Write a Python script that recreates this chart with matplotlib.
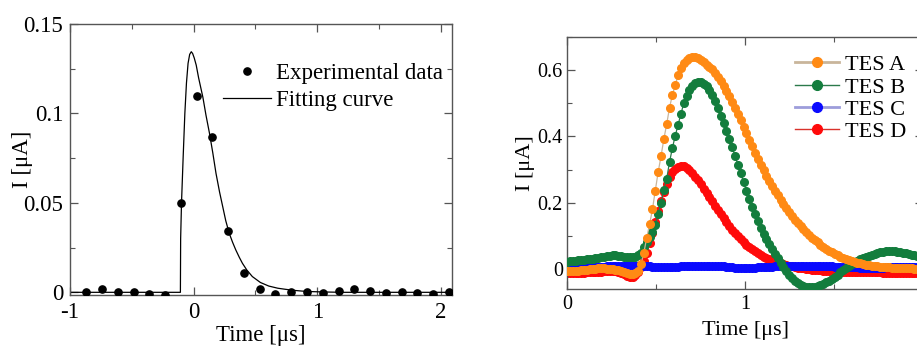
import numpy as np
import matplotlib
matplotlib.use("Agg")
import matplotlib.pyplot as plt
from matplotlib.lines import Line2D
from matplotlib.ticker import MultipleLocator, FixedLocator

plt.rcParams['font.family'] = ['Liberation Serif', 'DejaVu Serif']
plt.rcParams['mathtext.fontset'] = 'stix'

# ---------------- Left panel data ----------------
exp_time = [-0.872, -0.744, -0.613, -0.485, -0.360, -0.232, -0.104, 0.024, 0.149, 0.280,
            0.408, 0.533, 0.661, 0.789, 0.915, 1.043, 1.173, 1.301, 1.427, 1.555,
            1.683, 1.808, 1.936, 2.067]
exp_current = [0.0000, 0.0017, 0.0000, 0.0002, -0.0010, -0.0015, 0.0497, 0.1100, 0.0866, 0.0343,
               0.0110, 0.0017, -0.0010, 0.0004, 0.0000, -0.0006, 0.0007, 0.0017, 0.0010, -0.0004,
               0.0000, -0.0006, -0.0007, 0.0000]

fit_time = [-1.000, -0.107, -0.105, -0.098, -0.085, -0.071, -0.058, -0.045, -0.032, -0.019,
            -0.008, 0.005, 0.021, 0.040, 0.075, 0.100, 0.128, 0.155, 0.181, 0.210,
            0.235, 0.260, 0.288, 0.315, 0.341, 0.370, 0.395, 0.430, 0.475, 0.540,
            0.608, 0.680, 0.741, 0.810, 0.875, 0.950, 1.050, 1.200, 2.090]
fit_current = [0.0, 0.0, 0.030, 0.050, 0.075, 0.100, 0.117, 0.128, 0.133, 0.1345,
               0.1335, 0.131, 0.127, 0.120, 0.109, 0.099, 0.089, 0.078, 0.0665, 0.056,
               0.048, 0.040, 0.033, 0.028, 0.0237, 0.0195, 0.0162, 0.0125, 0.0088, 0.0055,
               0.0035, 0.0023, 0.0017, 0.0011, 0.0007, 0.0004, 0.0002, 0.0, 0.0]

left_xticks = [-1, 0, 1, 2]
left_xticklabels = ['-1', '0', '1', '2']
left_yticks = [0, 0.05, 0.1, 0.15]
left_yticklabels = ['0', '0.05', '0.1', '0.15']

# ---------------- Right panel data ----------------
sample_dt = 0.016
tes_a = [-0.007, -0.007, -0.006, -0.006, -0.005, -0.004, -0.003, -0.002, -0.001, 0.000,
         0.001, 0.002, 0.002, 0.002, 0.001, 0.000, -0.001, -0.002, -0.004, -0.007,
         -0.010, -0.013, -0.015, -0.015, -0.012, -0.005, 0.015, 0.050, 0.095, 0.135,
         0.180, 0.237, 0.292, 0.340, 0.392, 0.437, 0.487, 0.525, 0.555, 0.585,
         0.607, 0.622, 0.632, 0.638, 0.640, 0.639, 0.636, 0.631, 0.625, 0.617,
         0.610, 0.602, 0.592, 0.580, 0.567, 0.553, 0.538, 0.522, 0.505, 0.487,
         0.468, 0.449, 0.429, 0.409, 0.389, 0.370, 0.351, 0.333, 0.315, 0.298,
         0.282, 0.266, 0.251, 0.236, 0.222, 0.209, 0.196, 0.183, 0.171, 0.160,
         0.149, 0.139, 0.129, 0.120, 0.111, 0.103, 0.095, 0.088, 0.081, 0.074,
         0.068, 0.062, 0.056, 0.051, 0.046, 0.042, 0.038, 0.034, 0.030, 0.027,
         0.024, 0.021, 0.019, 0.017, 0.015, 0.013, 0.012, 0.010, 0.009, 0.008,
         0.007, 0.006, 0.006, 0.005, 0.004, 0.004, 0.003, 0.003, 0.003, 0.002,
         0.002, 0.002, 0.001, 0.001, 0.001]
tes_b = [0.022, 0.023, 0.024, 0.025, 0.026, 0.027, 0.028, 0.029, 0.030, 0.031,
         0.032, 0.034, 0.036, 0.038, 0.040, 0.041, 0.042, 0.042, 0.041, 0.040,
         0.038, 0.037, 0.036, 0.036, 0.038, 0.042, 0.050, 0.068, 0.083, 0.096,
         0.111, 0.134, 0.165, 0.200, 0.240, 0.272, 0.323, 0.365, 0.402, 0.435,
         0.468, 0.500, 0.523, 0.540, 0.552, 0.560, 0.564, 0.563, 0.559, 0.551,
         0.540, 0.525, 0.506, 0.485, 0.463, 0.440, 0.416, 0.392, 0.367, 0.341,
         0.315, 0.289, 0.262, 0.237, 0.212, 0.188, 0.165, 0.144, 0.125, 0.107,
         0.091, 0.075, 0.060, 0.046, 0.032, 0.019, 0.006, -0.006, -0.017, -0.027,
         -0.036, -0.043, -0.048, -0.052, -0.054, -0.055, -0.055, -0.054, -0.052, -0.049,
         -0.045, -0.040, -0.035, -0.029, -0.023, -0.017, -0.010, -0.004, 0.002, 0.008,
         0.014, 0.019, 0.024, 0.029, 0.033, 0.037, 0.041, 0.044, 0.047, 0.050,
         0.052, 0.053, 0.054, 0.055, 0.055, 0.054, 0.053, 0.052, 0.050, 0.048,
         0.046, 0.044, 0.042, 0.040, 0.038]
tes_c = [0.008, 0.009, 0.009, 0.010, 0.010, 0.009, 0.009, 0.008, 0.008, 0.008,
         0.008, 0.007, 0.007, 0.007, 0.008, 0.008, 0.009, 0.009, 0.010, 0.010,
         0.010, 0.011, 0.011, 0.011, 0.010, 0.010, 0.009, 0.009, 0.008, 0.008,
         0.007, 0.007, 0.007, 0.006, 0.006, 0.006, 0.006, 0.007, 0.007, 0.007,
         0.008, 0.008, 0.008, 0.009, 0.009, 0.009, 0.010, 0.010, 0.010, 0.010,
         0.010, 0.010, 0.010, 0.009, 0.009, 0.008, 0.007, 0.006, 0.005, 0.004,
         0.003, 0.003, 0.003, 0.003, 0.003, 0.004, 0.004, 0.005, 0.005, 0.006,
         0.006, 0.007, 0.007, 0.008, 0.008, 0.008, 0.009, 0.009, 0.009, 0.009,
         0.010, 0.010, 0.010, 0.010, 0.010, 0.010, 0.009, 0.009, 0.009, 0.009,
         0.008, 0.008, 0.008, 0.008, 0.007, 0.007, 0.007, 0.006, 0.006, 0.006,
         0.005, 0.005, 0.005, 0.004, 0.004, 0.004, 0.004, 0.004, 0.004, 0.004,
         0.004, 0.004, 0.005, 0.005, 0.005, 0.005, 0.005, 0.006, 0.006, 0.006,
         0.006, 0.006, 0.006, 0.006, 0.006]
tes_d = [-0.013, -0.013, -0.013, -0.012, -0.012, -0.011, -0.011, -0.010, -0.010, -0.009,
         -0.009, -0.009, -0.008, -0.007, -0.006, -0.005, -0.005, -0.006, -0.008, -0.011,
         -0.015, -0.020, -0.023, -0.023, -0.018, -0.008, 0.006, 0.025, 0.050, 0.080,
         0.110, 0.142, 0.174, 0.205, 0.234, 0.258, 0.278, 0.293, 0.303, 0.309,
         0.312, 0.311, 0.306, 0.298, 0.289, 0.279, 0.268, 0.256, 0.243, 0.230,
         0.217, 0.204, 0.191, 0.178, 0.165, 0.153, 0.141, 0.130, 0.119, 0.109,
         0.099, 0.090, 0.082, 0.074, 0.067, 0.060, 0.054, 0.048, 0.043, 0.038,
         0.034, 0.030, 0.026, 0.023, 0.020, 0.017, 0.015, 0.012, 0.010, 0.008,
         0.006, 0.004, 0.003, 0.002, 0.000, -0.001, -0.002, -0.003, -0.004, -0.004,
         -0.005, -0.005, -0.006, -0.006, -0.007, -0.007, -0.007, -0.008, -0.008, -0.008,
         -0.008, -0.009, -0.009, -0.009, -0.009, -0.009, -0.010, -0.010, -0.010, -0.010,
         -0.010, -0.011, -0.011, -0.011, -0.011, -0.011, -0.012, -0.012, -0.012, -0.012,
         -0.012, -0.013, -0.013, -0.013, -0.013]
tes_time = np.arange(len(tes_a)) * sample_dt

series_labels = ['TES A', 'TES B', 'TES C', 'TES D']
marker_colors = ['#ff8a14', '#137d3d', '#0a0aff', '#ff0a0a']
line_colors = ['#c9b59b', '#2b7a4b', '#9d9ddb', '#d9322b']

right_xticks = [0, 1, 2]
right_xticklabels = ['0', '1', '']
right_yticks = [0, 0.2, 0.4, 0.6]
right_yticklabels = ['0', '0.2', '0.4', '0.6']

# ---------------- Figure ----------------
W, H = 917, 347
fig = plt.figure(figsize=(W / 100, H / 100), dpi=100)
frame_col = '#555555'


def style_axes(ax, fs):
    for s in ax.spines.values():
        s.set_color(frame_col)
        s.set_linewidth(1.0)
    ax.tick_params(which='both', direction='in', top=True, right=True,
                   color=frame_col, labelsize=fs)
    ax.tick_params(which='major', length=6, width=0.9)
    ax.tick_params(which='minor', length=3.5, width=0.8)


# Left axes
axL = fig.add_axes([70 / W, 1 - 295 / H, (452 - 70) / W, (295 - 24) / H])
axL.plot(fit_time, fit_current, color='black', lw=0.9, zorder=2)
axL.plot(exp_time, exp_current, 'o', color='black', ms=5.2, zorder=3)
axL.set_xlim(-1.0, 2.09)
axL.set_ylim(-0.0015, 0.15)
style_axes(axL, 16.5)
axL.xaxis.set_major_locator(FixedLocator(left_xticks))
axL.set_xticklabels(left_xticklabels)
axL.xaxis.set_minor_locator(MultipleLocator(0.5))
axL.yaxis.set_major_locator(FixedLocator(left_yticks))
axL.set_yticklabels(left_yticklabels)
axL.yaxis.set_minor_locator(MultipleLocator(0.025))
axL.tick_params(axis='x', which='major', pad=5)
axL.tick_params(axis='y', which='major', pad=5)
axL.set_xlabel('Time [μs]', fontsize=16.5, labelpad=1.5)
axL.set_ylabel('I [μA]', fontsize=16.5, labelpad=-7)

hL = [Line2D([], [], ls='none', marker='o', color='black', ms=5.2),
      Line2D([], [], color='black', lw=0.9)]
axL.legend(hL, ['Experimental data', 'Fitting curve'], loc='upper left',
           bbox_to_anchor=(0.40, 0.855), frameon=False, fontsize=16.5,
           handlelength=2.1, handletextpad=0.2, labelspacing=0.25,
           borderpad=0, borderaxespad=0)

# Right axes
axR = fig.add_axes([567 / W, 1 - 289 / H, 356 / W, (289 - 37) / H])
series = [tes_a, tes_b, tes_c, tes_d]
z = [5, 4, 3, 2]
for vals, mc, lc, zz in zip(series, marker_colors, line_colors, z):
    axR.plot(tes_time, vals, '-', color=lc, lw=0.9, marker='o', ms=5.5,
             mfc=mc, mec=mc, zorder=zz)
axR.set_xlim(0, 2)
axR.set_ylim(-0.06, 0.70)
style_axes(axR, 14.5)
axR.xaxis.set_major_locator(FixedLocator(right_xticks))
axR.set_xticklabels(right_xticklabels)
axR.xaxis.set_minor_locator(MultipleLocator(0.5))
axR.yaxis.set_major_locator(FixedLocator(right_yticks))
axR.set_yticklabels(right_yticklabels)
axR.yaxis.set_minor_locator(MultipleLocator(0.1))
axR.tick_params(axis='x', which='major', pad=4)
axR.tick_params(axis='y', which='major', pad=3)
axR.set_xlabel('Time [μs]', fontsize=16, labelpad=5)
axR.set_ylabel('I [μA]', fontsize=16, labelpad=2)

lws = [2.0, 1.0, 2.0, 1.0]
hR = [Line2D([], [], color=lc, lw=lw, marker='o', ms=7, mfc=mc, mec=mc)
      for mc, lc, lw in zip(marker_colors, line_colors, lws)]
axR.legend(hR, series_labels, loc='upper left', bbox_to_anchor=(0.64, 0.93),
           frameon=False, fontsize=16, handlelength=2.0, handletextpad=0.25,
           labelspacing=0.08, borderpad=0, borderaxespad=0)

fig.savefig('out.png', dpi=100)
